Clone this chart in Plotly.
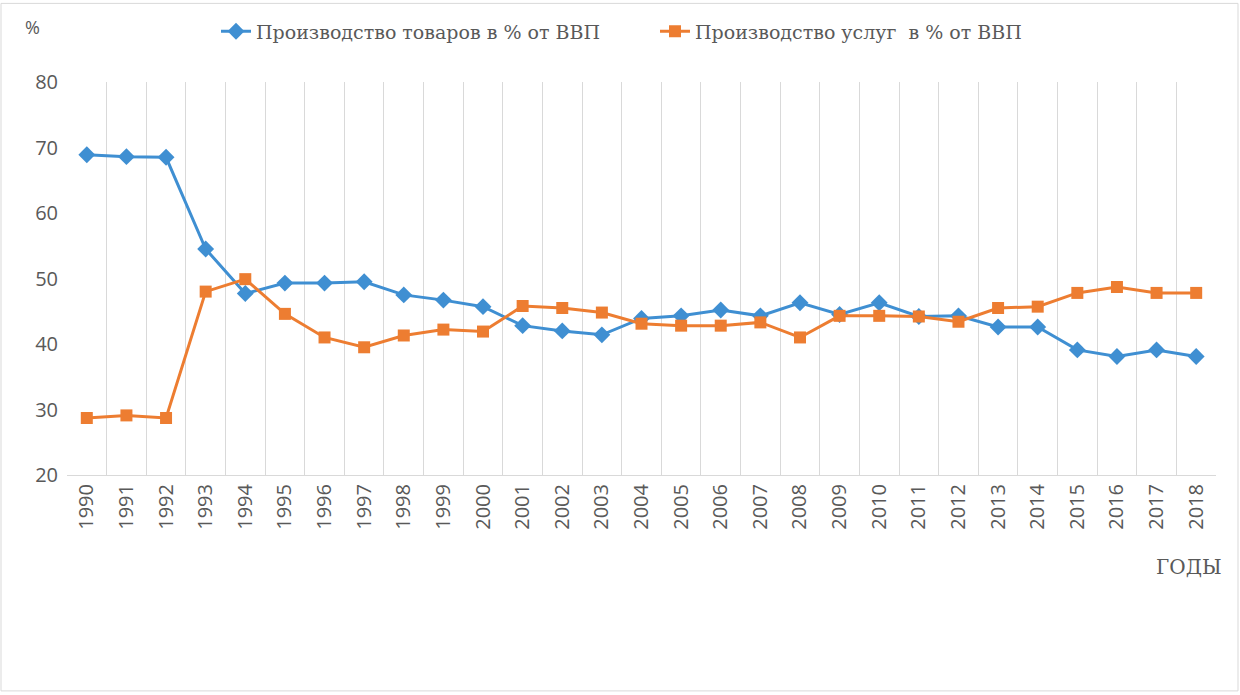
import plotly.graph_objects as go

years = [str(y) for y in range(1990, 2019)]
goods = [68.9, 68.6, 68.5, 54.5, 47.7, 49.3, 49.3, 49.5, 47.5, 46.7, 45.7, 42.8, 42.0, 41.4,
         43.9, 44.3, 45.2, 44.3, 46.3, 44.5, 46.3, 44.2, 44.3, 42.6, 42.6, 39.1, 38.1, 39.1, 38.1]
services = [28.7, 29.1, 28.7, 48.0, 49.9, 44.6, 41.0, 39.5, 41.3, 42.2, 41.9, 45.8, 45.5, 44.8,
            43.1, 42.8, 42.8, 43.3, 41.0, 44.3, 44.3, 44.2, 43.4, 45.5, 45.7, 47.8, 48.7, 47.8, 47.8]
name_goods = "Производство товаров в % от ВВП"
name_services = "Производство услуг  в % от ВВП"

BLUE = "#3F8FD2"
ORANGE = "#ED7D31"
GREY = "#595959"
SERIF = "DejaVu Serif"
SANS = "Open Sans"

W, H = 1240, 695
L, R, T, B = 67, 24, 80, 220
pw, ph = W - L - R, H - T - B

fig = go.Figure()
fig.add_trace(go.Scatter(x=years, y=goods, name=name_goods, mode="lines+markers",
                         line=dict(color=BLUE, width=3),
                         marker=dict(symbol="diamond", size=13, color=BLUE)))
fig.add_trace(go.Scatter(x=years, y=services, name=name_services, mode="lines+markers",
                         line=dict(color=ORANGE, width=3),
                         marker=dict(symbol="square", size=12, color=ORANGE)))

fig.update_layout(
    width=W, height=H,
    margin=dict(l=L, r=R, t=T, b=B),
    paper_bgcolor="white", plot_bgcolor="white",
    showlegend=True,
    legend=dict(orientation="h", x=(216 - L) / pw, xanchor="left",
                y=1 + (T - 10) / ph, yanchor="top",
                font=dict(family=SERIF, size=19, color=GREY),
                itemwidth=30, entrywidth=394, entrywidthmode="pixels",
                bgcolor="rgba(0,0,0,0)"),
    xaxis=dict(type="category", tickson="boundaries", showgrid=True,
               gridcolor="#D9D9D9", gridwidth=1, ticks="", tickangle=-90,
               range=[-0.5, 28.5],
               tickfont=dict(family=SANS, size=20, color=GREY),
               showline=True, linecolor="#D9D9D9", linewidth=1, zeroline=False),
    yaxis=dict(range=[20, 80], dtick=10, showgrid=False, zeroline=False,
               showline=False, ticks="", ticklabelstandoff=8,
               tickfont=dict(family=SANS, size=20, color=GREY)),
    annotations=[
        dict(text="%", xref="paper", yref="paper", x=(23 - L) / pw, y=1 + (T - 25) / ph,
             xanchor="left", yanchor="middle", showarrow=False,
             font=dict(family=SANS, size=18, color=GREY)),
        dict(text="ГОДЫ", xref="paper", yref="paper", x=(1224 - L) / pw, y=-(567 - T - ph) / ph,
             xanchor="right", yanchor="middle", showarrow=False,
             font=dict(family=SERIF, size=20, color=GREY)),
    ],
    shapes=[dict(type="rect", xref="paper", yref="paper",
                 x0=(1 - L) / pw, x1=(W - 2 - L) / pw,
                 y0=-(H - 3 - T - ph) / ph, y1=1 + (T - 1) / ph,
                 line=dict(color="#D9D9D9", width=1), layer="below")],
)

fig.write_html("out.html", config={"displayModeBar": False},
               post_script="document.body.style.margin='0';")
